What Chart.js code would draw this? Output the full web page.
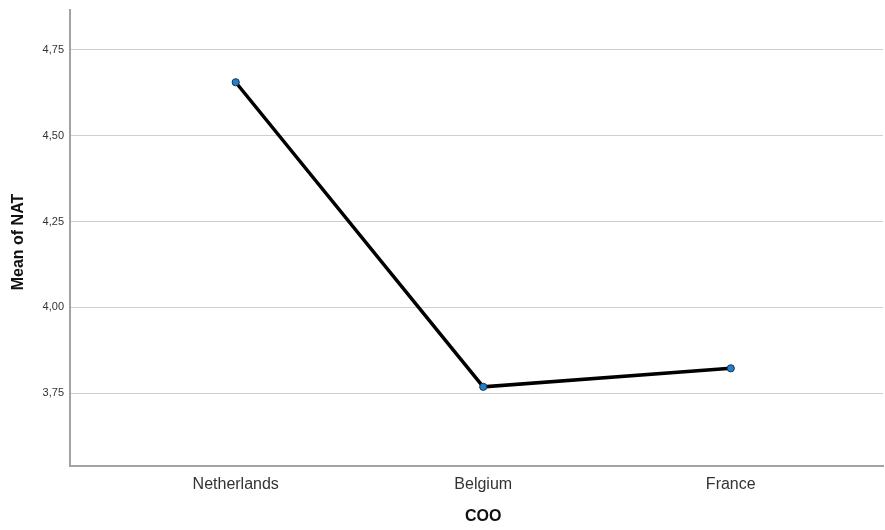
<!DOCTYPE html>
<html>
<head>
<meta charset="utf-8">
<script src="https://cdn.jsdelivr.net/npm/chart.js@4"></script>
<style>
  html, body { margin: 0; padding: 0; background: #ffffff; }
  #wrap { width: 885px; height: 530px; }
</style>
</head>
<body>
<div id="wrap"><canvas id="c" width="885" height="530"></canvas></div>
<script>
const categories = ["Netherlands", "Belgium", "France"];
const meanNAT = [4.656, 3.768, 3.822];
const yTickValues = [3.75, 4.00, 4.25, 4.50, 4.75];
const xAxisTitle = "COO";
const yAxisTitle = "Mean of NAT";

const points = categories.map((c, i) => ({ x: i, y: meanNAT[i] }));
const FONT = "'Liberation Sans', Arial, sans-serif";

// Axis titles placed as in the reference (x title under the middle category)
const axisTitles = {
  id: 'axisTitles',
  afterDraw(chart) {
    const ctx = chart.ctx;
    const xs = chart.scales.x, ys = chart.scales.y;
    ctx.save();
    ctx.fillStyle = '#111111';
    ctx.font = "bold 16px " + FONT;
    ctx.textAlign = 'center';
    ctx.textBaseline = 'middle';
    ctx.fillText(xAxisTitle, xs.getPixelForValue(1), 517);
    ctx.translate(19, (chart.chartArea.top + chart.chartArea.bottom) / 2 + 4);
    ctx.rotate(-Math.PI / 2);
    ctx.fillText(yAxisTitle, 0, 0);
    ctx.restore();
  }
};

new Chart(document.getElementById('c'), {
  type: 'line',
  data: {
    datasets: [{
      data: points,
      borderColor: '#000000',
      borderWidth: 3.5,
      pointRadius: 3.6,
      pointBackgroundColor: '#1f80d0',
      pointBorderColor: '#1c2f45',
      pointBorderWidth: 1,
      tension: 0,
      fill: false
    }]
  },
  plugins: [axisTitles],
  options: {
    responsive: false,
    animation: false,
    layout: { autoPadding: false, padding: { top: 10, right: 2, left: 0, bottom: 0 } },
    plugins: { legend: { display: false }, tooltip: { enabled: false } },
    scales: {
      x: {
        type: 'linear',
        position: 'bottom',
        min: -0.6695,
        max: 2.615,
        afterBuildTicks: (s) => { s.ticks = categories.map((c, i) => ({ value: i })); },
        afterFit: (s) => { s.height = 64; s.paddingLeft = 0; s.paddingRight = 0; },
        grid: { display: false, drawTicks: false },
        border: { display: true, color: '#a3a3a3', width: 2 },
        ticks: {
          padding: 9,
          color: '#333333',
          font: { family: FONT, size: 16 },
          maxRotation: 0,
          autoSkip: false,
          callback: (v) => categories[v] ?? ''
        },
        title: { display: false }
      },
      y: {
        min: 3.5372,
        max: 4.8666,
        afterBuildTicks: (s) => { s.ticks = yTickValues.map(v => ({ value: v })); },
        afterFit: (s) => { s.width = 70; s.paddingTop = 0; s.paddingBottom = 0; },
        grid: { color: '#cfcfcf', lineWidth: 1, drawTicks: false },
        border: { display: true, color: '#a3a3a3', width: 2 },
        ticks: {
          padding: 6,
          color: '#333333',
          font: { family: FONT, size: 11 },
          callback: (v) => Number(v).toFixed(2).replace('.', ',')
        },
        title: { display: false }
      }
    }
  }
});
</script>
</body>
</html>
